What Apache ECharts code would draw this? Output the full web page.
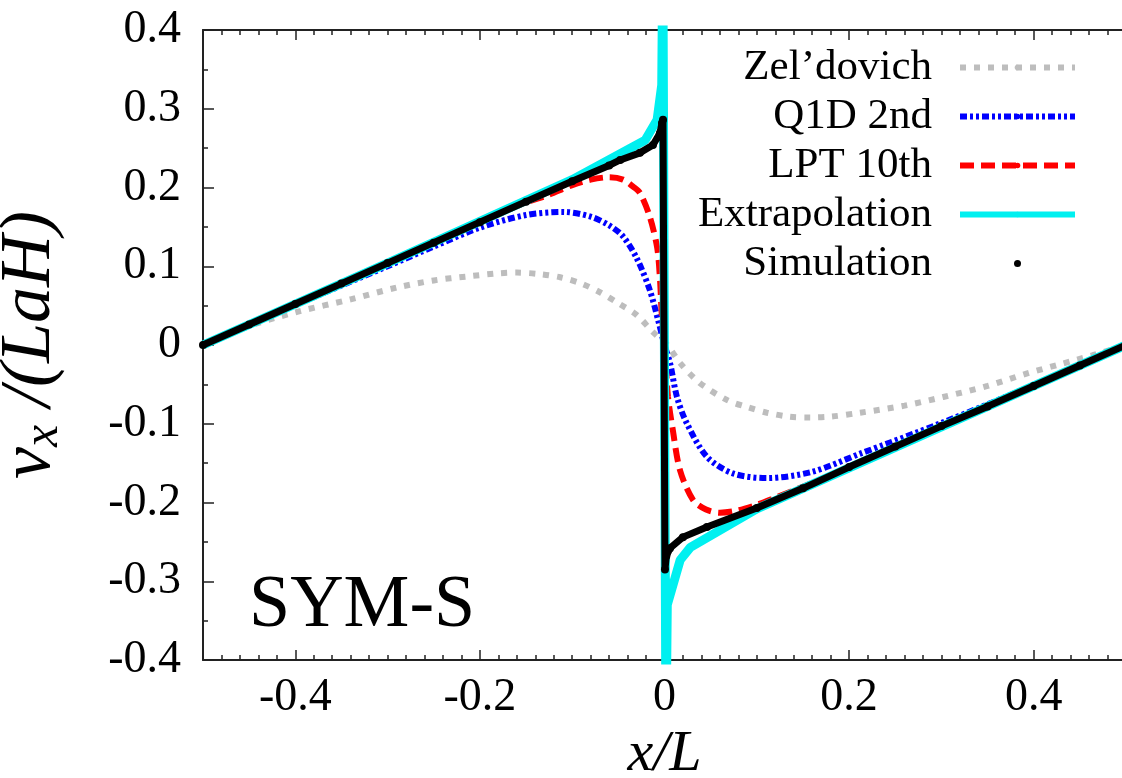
<!DOCTYPE html>
<html>
<head>
<meta charset="utf-8">
<script src="https://cdn.jsdelivr.net/npm/echarts@6/dist/echarts.min.js"></script>
<style>
html, body { margin: 0; padding: 0; background: #fff; }
#chart { width: 1122px; height: 778px; }
</style>
</head>
<body>
<div id="chart"></div>
<script>
// values
const xTickLabels = [-0.4, -0.2, 0, 0.2, 0.4];

const zelX = [-0.5, -0.47, -0.44, -0.395, -0.34, -0.29, -0.25, -0.214, -0.18, -0.16, -0.135, -0.113, -0.09, -0.07, -0.05, -0.03, -0.013, 0.003,
    0.017, 0.038, 0.068, 0.09, 0.111, 0.135, 0.158, 0.18, 0.212, 0.26, 0.302, 0.35, 0.393, 0.43, 0.464, 0.5];
const zelY = [0, 0.015, 0.028, 0.043, 0.058, 0.073, 0.082, 0.087, 0.091, 0.092, 0.09, 0.086, 0.078, 0.067, 0.053, 0.038, 0.017, 0,
    -0.023, -0.048, -0.07, -0.079, -0.086, -0.091, -0.092, -0.091, -0.086, -0.077, -0.066, -0.052, -0.036, -0.024, -0.013, 0];

const q1dX = [-0.5, -0.4, -0.3, -0.25, -0.2, -0.15, -0.11, -0.08, -0.06, -0.045, -0.03, -0.016, -0.007, 0,
    0.006, 0.0135, 0.024, 0.046, 0.074, 0.111, 0.16, 0.212, 0.3, 0.4, 0.5];
const q1dY = [0, 0.051, 0.1, 0.125, 0.149, 0.165, 0.169, 0.163, 0.152, 0.138, 0.11, 0.07, 0.032, 0,
    -0.023, -0.066, -0.099, -0.142, -0.163, -0.169, -0.161, -0.138, -0.099, -0.051, 0];

const lptX = [-0.5, -0.3, -0.2, -0.15, -0.127, -0.1, -0.08, -0.06, -0.045, -0.034, -0.0266, -0.016, -0.008, -0.005, -0.003, 0,
    0.0038, 0.009, 0.0168, 0.031, 0.045, 0.06, 0.08, 0.1, 0.12, 0.15, 0.2, 0.3, 0.5];
const lptY = [0, 0.104, 0.156, 0.181, 0.19, 0.203, 0.21, 0.213, 0.21, 0.201, 0.193, 0.163, 0.124, 0.086, 0.04, 0,
    -0.066, -0.108, -0.159, -0.197, -0.209, -0.213, -0.21, -0.203, -0.194, -0.18, -0.156, -0.104, 0];

const extX = [-0.5, -0.3, -0.1, -0.021, -0.008, -0.003, -0.0018, 0.0016, 0.003, 0.017, 0.028, 0.1, 0.3, 0.5];
const extY = [0, 0.104, 0.21, 0.26, 0.286, 0.33, 0.5, -0.5, -0.33, -0.273, -0.257, -0.208, -0.104, 0];

const simX = [-0.5, -0.45, -0.4, -0.35, -0.3, -0.25, -0.2, -0.15, -0.1, -0.06, -0.048, -0.0266, -0.0125, -0.005, -0.0027, -0.0016,
    0.0005, 0.002, 0.006, 0.02, 0.046, 0.1, 0.15, 0.2, 0.25, 0.3, 0.35, 0.4, 0.45, 0.5];
const simY = [0, 0.026, 0.052, 0.078, 0.104, 0.13, 0.156, 0.182, 0.208, 0.228, 0.235, 0.244, 0.254, 0.269, 0.282, 0.286,
    -0.285, -0.268, -0.258, -0.244, -0.231, -0.207, -0.182, -0.155, -0.129, -0.103, -0.078, -0.052, -0.026, 0];

// stray simulation particles near the shock
const strayX = [-0.0025, -0.0025, 0.0015, 0.0015, 0.0012];
const strayY = [0.312, 0.305, -0.298, -0.305, -0.315];

function pairs(xs, ys) {
    return xs.map(function (x, i) { return [x, ys[i]]; });
}

const serif = 'Liberation Serif';
const chart = echarts.init(document.getElementById('chart'));

const baseX = {
    type: 'value',
    min: -0.5,
    max: 0.5,
    splitLine: { show: false }
};

const option = {
    backgroundColor: '#fff',
    animation: false,
    textStyle: { fontFamily: serif, color: '#000' },
    grid: { left: 203, top: 30, width: 923, bottom: 118, outerBoundsMode: 'none' },
    legend: {
        orient: 'vertical',
        align: 'right',
        right: 44,
        top: 46,
        padding: 0,
        itemWidth: 115,
        itemHeight: 7,
        itemGap: 6,
        textStyle: { fontFamily: serif, fontSize: 43, lineHeight: 42, color: '#000', padding: [0, 23, 0, 0] },
        data: [
            { name: "Zel’dovich", lineStyle: { width: 6 } },
            { name: 'Q1D 2nd', lineStyle: { width: 6 } },
            { name: 'LPT 10th', lineStyle: { width: 6 } },
            { name: 'Extrapolation', lineStyle: { width: 6 } },
            { name: 'Simulation', icon: 'circle' }
        ]
    },
    xAxis: [
        Object.assign({}, baseX, {
            position: 'bottom',
            interval: 0.1,
            name: 'x/L',
            nameLocation: 'middle',
            nameGap: 58,
            nameTextStyle: { fontFamily: serif, fontSize: 58, fontStyle: 'italic', color: '#000' },
            axisLine: { onZero: false, lineStyle: { color: '#222', width: 2 } },
            axisTick: { inside: true, length: 10, customValues: xTickLabels, lineStyle: { color: '#222', width: 1.5 } },
            axisLabel: { customValues: xTickLabels, margin: 15, fontFamily: serif, fontSize: 46, color: '#000' }
        }),
        Object.assign({}, baseX, {
            position: 'bottom',
            interval: 0.02,
            axisLine: { show: false, onZero: false },
            axisTick: { inside: true, length: 5, lineStyle: { color: '#222', width: 1.5 } },
            axisLabel: { show: false }
        }),
        Object.assign({}, baseX, {
            position: 'top',
            interval: 0.1,
            axisLine: { onZero: false, lineStyle: { color: '#222', width: 2 } },
            axisTick: { inside: true, length: 10, customValues: xTickLabels, lineStyle: { color: '#222', width: 1.5 } },
            axisLabel: { show: false }
        }),
        Object.assign({}, baseX, {
            position: 'top',
            interval: 0.02,
            axisLine: { show: false, onZero: false },
            axisTick: { inside: true, length: 5, lineStyle: { color: '#222', width: 1.5 } },
            axisLabel: { show: false }
        })
    ],
    yAxis: {
        type: 'value',
        min: -0.4,
        max: 0.4,
        interval: 0.1,
        name: '{v|v}{s|x}{v| /(LaH)}',
        nameLocation: 'middle',
        nameGap: 134,
        nameTextStyle: {
            rich: {
                v: { fontFamily: serif, fontSize: 72, fontStyle: 'italic', color: '#000' },
                s: { fontFamily: serif, fontSize: 50, fontStyle: 'italic', color: '#000', padding: [28, 0, 0, 0] }
            }
        },
        splitLine: { show: false },
        axisLine: { show: true, onZero: false, lineStyle: { color: '#222', width: 2 } },
        axisTick: { inside: true, length: 11, lineStyle: { color: '#222', width: 1.5 } },
        minorTick: { show: true, splitNumber: 2, length: 5, lineStyle: { color: '#222', width: 1.5 } },
        axisLabel: { margin: 22, fontFamily: serif, fontSize: 46, color: '#000' }
    },
    graphic: [{
        type: 'text',
        left: 249,
        top: 570,
        style: { text: 'SYM-S', fontFamily: serif, fontSize: 74, fill: '#000' }
    }],
    series: [
        {
            name: "Zel’dovich",
            type: 'line',
            symbol: 'none',
            smooth: 0.3,
            data: pairs(zelX, zelY),
            lineStyle: { color: '#bdbdbd', width: 6, type: [6, 8] },
            itemStyle: { color: '#bdbdbd' }
        },
        {
            name: 'Q1D 2nd',
            type: 'line',
            symbol: 'none',
            smooth: 0.3,
            data: pairs(q1dX, q1dY),
            lineStyle: { color: '#0000ff', width: 6, type: [7, 3, 3, 3, 3, 3] },
            itemStyle: { color: '#0000ff' }
        },
        {
            name: 'LPT 10th',
            type: 'line',
            symbol: 'none',
            smooth: 0.3,
            data: pairs(lptX, lptY),
            lineStyle: { color: '#ff0000', width: 6, type: [14, 7] },
            itemStyle: { color: '#ff0000' }
        },
        {
            name: 'Extrapolation',
            type: 'line',
            symbol: 'none',
            data: pairs(extX, extY),
            lineStyle: { color: '#00f0f0', width: 9 },
            itemStyle: { color: '#00f0f0' }
        },
        {
            name: 'Simulation',
            type: 'line',
            symbol: 'circle',
            symbolSize: 8,
            showSymbol: true,
            data: pairs(simX, simY),
            lineStyle: { color: '#000', width: 7 },
            itemStyle: { color: '#000' }
        },
        {
            name: 'Simulation',
            type: 'scatter',
            symbolSize: 7,
            data: pairs(strayX, strayY),
            itemStyle: { color: '#000' }
        }
    ]
};

chart.setOption(option);
window.addEventListener('resize', function () {
    chart.resize();
});
</script>
</body>
</html>
